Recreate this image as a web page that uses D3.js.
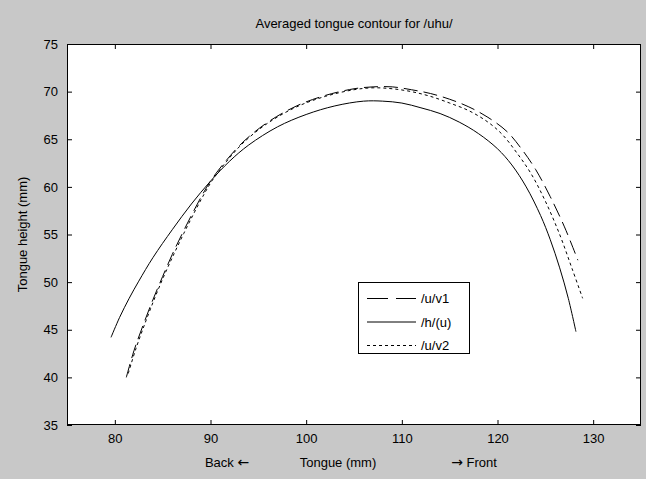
<!DOCTYPE html>
<html>
<head>
<meta charset="utf-8">
<script src="https://cdn.jsdelivr.net/npm/d3@7"></script>
<style>
  html, body { margin: 0; padding: 0; background: #c8c8c8; }
  svg { display: block; }
  text { font-family: "Liberation Sans", Arial, sans-serif; fill: #000; }
</style>
</head>
<body>
<svg id="chart" width="646" height="479"></svg>
<script>
// Averaged tongue contours (x = position along tongue, y = height, mm)
const v1X = [81.2, 82.0, 83.0, 84.0, 85.0, 86.0, 87.0, 88.0, 89.0, 90.0, 91.5, 93.5, 96.0, 99.0, 102.0, 105.0, 107.0, 109.0, 111.0, 113.0, 115.0, 117.0, 119.0, 121.0, 122.5, 124.0, 125.5, 127.0, 128.4];
const v1Y = [40.0, 42.8, 45.6, 48.2, 50.6, 52.9, 55.0, 57.0, 58.9, 60.6, 62.6, 64.8, 66.8, 68.5, 69.6, 70.3, 70.5, 70.5, 70.2, 69.8, 69.2, 68.4, 67.3, 65.8, 64.0, 61.8, 59.0, 55.8, 52.3];

const hX = [79.6, 80.5, 81.5, 82.5, 84.0, 86.0, 88.0, 90.0, 92.0, 94.0, 97.0, 100.0, 103.0, 106.0, 108.0, 110.0, 112.0, 114.0, 116.0, 118.0, 120.0, 121.5, 123.0, 124.5, 125.5, 126.5, 127.4, 128.2];
const hY = [44.2, 46.3, 48.3, 50.1, 52.6, 55.5, 58.2, 60.6, 62.7, 64.4, 66.3, 67.6, 68.5, 69.0, 69.0, 68.8, 68.3, 67.7, 66.8, 65.6, 64.0, 62.3, 60.0, 57.0, 54.5, 51.5, 48.3, 44.8];

const v2X = [81.4, 82.2, 83.2, 84.2, 85.2, 86.2, 87.2, 88.2, 89.2, 90.2, 91.7, 93.5, 96.0, 99.0, 102.0, 105.0, 107.0, 109.0, 111.0, 113.0, 115.0, 117.0, 119.0, 120.5, 122.0, 123.5, 125.0, 126.5, 127.8, 128.9];
const v2Y = [40.4, 43.0, 45.8, 48.4, 50.8, 53.0, 55.1, 57.1, 59.0, 60.7, 62.7, 64.7, 66.7, 68.4, 69.5, 70.2, 70.4, 70.3, 70.0, 69.5, 68.8, 68.0, 66.8, 65.5, 63.6, 61.4, 58.5, 55.0, 51.4, 48.3];

const seriesNames = ["/u/v1", "/h/(u)", "/u/v2"];
const xTicks = [80, 90, 100, 110, 120, 130];
const yTicks = [35, 40, 45, 50, 55, 60, 65, 70, 75];
const xDomain = [75, 135];
const yDomain = [35, 75];

const titleText = "Averaged tongue contour for /uhu/";
const yLabelText = "Tongue height (mm)";

const svg = d3.select("#chart");
const plot = { left: 67, top: 44, right: 641, bottom: 425 };

const x = d3.scaleLinear().domain(xDomain).range([plot.left, plot.right]);
const y = d3.scaleLinear().domain(yDomain).range([plot.bottom, plot.top]);

// white axes area
svg.append("rect")
  .attr("x", plot.left).attr("y", plot.top)
  .attr("width", plot.right - plot.left).attr("height", plot.bottom - plot.top)
  .attr("fill", "#fff");

const tickLen = 5;
const fs = "13px";

// bottom axis with inward ticks
const gx = svg.append("g").attr("transform", `translate(0,${plot.bottom})`)
  .call(d3.axisBottom(x).tickValues(xTicks).tickSizeInner(-tickLen).tickSizeOuter(0).tickPadding(9));
// top ticks
const gxt = svg.append("g").attr("transform", `translate(0,${plot.top})`)
  .call(d3.axisTop(x).tickValues(xTicks).tickSizeInner(-tickLen).tickSizeOuter(0).tickFormat(""));
// left axis
const gy = svg.append("g").attr("transform", `translate(${plot.left},0)`)
  .call(d3.axisLeft(y).tickValues(yTicks).tickSizeInner(-tickLen).tickSizeOuter(0).tickPadding(9));
// right ticks
const gyr = svg.append("g").attr("transform", `translate(${plot.right},0)`)
  .call(d3.axisRight(y).tickValues(yTicks).tickSizeInner(-tickLen).tickSizeOuter(0).tickFormat(""));

[gx, gxt, gy, gyr].forEach(g => {
  g.select(".domain").remove();
  g.selectAll(".tick line").attr("stroke", "#000").attr("stroke-width", 1);
  g.selectAll("text").attr("font-size", fs).attr("font-family", "'Liberation Sans', Arial, sans-serif").attr("fill", "#000");
});

// axes box
svg.append("rect")
  .attr("x", plot.left + 0.5).attr("y", plot.top + 0.5)
  .attr("width", plot.right - plot.left - 1).attr("height", plot.bottom - plot.top - 1)
  .attr("fill", "none").attr("stroke", "#000").attr("stroke-width", 1);

// contour lines
const line = d3.line().x(d => x(d[0])).y(d => y(d[1])).curve(d3.curveCatmullRom.alpha(0.5));
const styles = ["14,6", null, "3,3"];
const data = [d3.zip(v1X, v1Y), d3.zip(hX, hY), d3.zip(v2X, v2Y)];

data.forEach((pts, i) => {
  svg.append("path")
    .datum(pts)
    .attr("d", line)
    .attr("fill", "none")
    .attr("stroke", "#000")
    .attr("stroke-width", 1)
    .attr("stroke-dasharray", styles[i]);
});

// legend
const lg = svg.append("g");
lg.append("rect")
  .attr("x", 358.5).attr("y", 282.5).attr("width", 111).attr("height", 71)
  .attr("fill", "#fff").attr("stroke", "#000").attr("stroke-width", 1);
seriesNames.forEach((name, i) => {
  const yy = 298.5 + i * 23.5;
  lg.append("line")
    .attr("x1", 367).attr("x2", 416).attr("y1", yy).attr("y2", yy)
    .attr("stroke", "#000").attr("stroke-width", 1)
    .attr("stroke-dasharray", styles[i] === "14,6" ? "21,8" : styles[i]);
  lg.append("text")
    .attr("x", 421).attr("y", yy + 4.5)
    .attr("font-size", fs)
    .text(name);
});

// title and axis labels
svg.append("text")
  .attr("x", (plot.left + plot.right) / 2).attr("y", 28)
  .attr("text-anchor", "middle").attr("font-size", fs)
  .text(titleText);

svg.append("text")
  .attr("transform", `translate(27,${(plot.top + plot.bottom) / 2}) rotate(-90)`)
  .attr("text-anchor", "middle").attr("font-size", fs)
  .text(yLabelText);

const arrowFont = "'DejaVu Sans', sans-serif";
const back = svg.append("text").attr("x", 227).attr("y", 467).attr("text-anchor", "middle").attr("font-size", fs);
back.append("tspan").text("Back ");
back.append("tspan").attr("font-family", arrowFont).attr("font-size", "14px").text("\u2190");

svg.append("text").attr("x", 338).attr("y", 467).attr("text-anchor", "middle").attr("font-size", fs)
  .text("Tongue (mm)");

const front = svg.append("text").attr("x", 474).attr("y", 467).attr("text-anchor", "middle").attr("font-size", fs);
front.append("tspan").attr("font-family", arrowFont).attr("font-size", "14px").text("\u2192");
front.append("tspan").text(" Front");
</script>
</body>
</html>
